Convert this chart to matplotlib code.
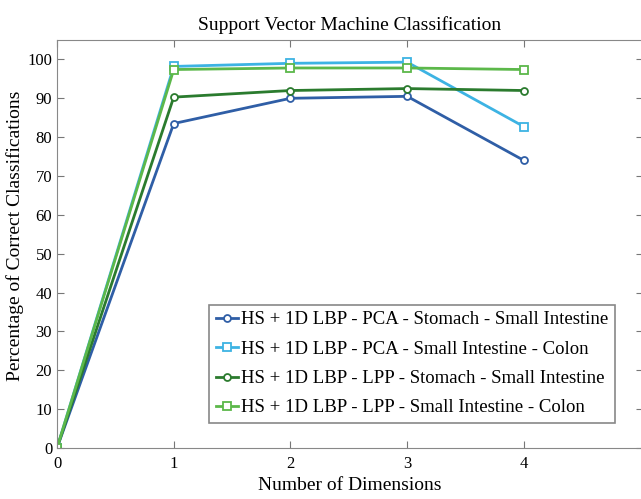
import matplotlib
matplotlib.use("Agg")
import matplotlib.pyplot as plt

plt.rcParams['font.family'] = ['Liberation Serif', 'DejaVu Serif']

dimensions = [0, 1, 2, 3, 4]
pca_stomach_si = [0, 83.5, 90.0, 90.5, 74.0]
pca_si_colon = [0, 98.2, 99.0, 99.3, 82.7]
lpp_stomach_si = [0, 90.3, 92.0, 92.5, 92.0]
lpp_si_colon = [0, 97.4, 97.8, 97.8, 97.4]

labels = [
    "HS + 1D LBP - PCA - Stomach - Small Intestine",
    "HS + 1D LBP - PCA - Small Intestine - Colon",
    "HS + 1D LBP - LPP - Stomach - Small Intestine",
    "HS + 1D LBP - LPP - Small Intestine - Colon",
]
series = [pca_stomach_si, pca_si_colon, lpp_stomach_si, lpp_si_colon]
colors = ["#2f5ea6", "#3db3e3", "#2b7b2e", "#5cb84a"]
markers = ["o", "s", "o", "s"]

fig = plt.figure(figsize=(6.41, 4.99), dpi=100)
# axes run a little past the right edge, as in the cropped original
ax = fig.add_axes([57 / 641, 51 / 499, 586 / 641, 408 / 499])

for y, lab, c, m in zip(series, labels, colors, markers):
    ax.plot(dimensions, y, color=c, lw=2, marker=m, ms=5 if m == "o" else 5.5,
            mfc="white", mec=c, mew=1.3, label=lab)

ax.set_xlim(0, 5.02)
ax.set_ylim(0, 105)
ax.set_xticks([0, 1, 2, 3, 4])
ax.set_yticks(range(0, 101, 10))
ax.tick_params(direction="in", top=True, right=True, length=5, labelsize=12,
               color="#777777")
ax.tick_params(axis="x", pad=6)
for s in ax.spines.values():
    s.set_color("#888888")

ax.set_title("Support Vector Machine Classification", fontsize=14, pad=7)
ax.set_xlabel("Number of Dimensions", fontsize=14, labelpad=3)
ax.set_ylabel("Percentage of Correct Classifications", fontsize=14)
ax.yaxis.set_label_coords(-0.057, 0.52)

leg = ax.legend(loc="lower right", bbox_to_anchor=(615 / 641, 76 / 499),
                bbox_transform=fig.transFigure, fontsize=13.5, fancybox=False,
                edgecolor="#888888", framealpha=1, handlelength=1.2,
                handletextpad=0.15, borderpad=0.35, labelspacing=0.65,
                borderaxespad=0)
leg.get_frame().set_linewidth(1.2)

fig.savefig("out.png", dpi=100)
